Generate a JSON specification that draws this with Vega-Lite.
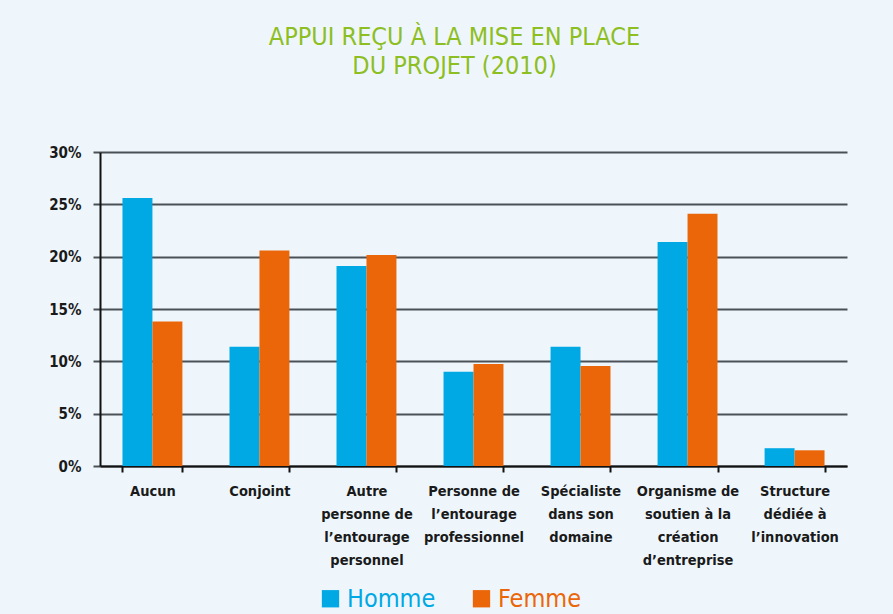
{
  "$schema": "https://vega.github.io/schema/vega-lite/v6.json",
  "width": 747,
  "height": 314,
  "padding": {"left": 48, "top": 25, "right": 47, "bottom": 14},
  "background": "#EEF6FC",
  "title": {
    "text": ["APPUI REÇU À LA MISE EN PLACE", "DU PROJET (2010)"],
    "color": "#8DBE22",
    "font": "DejaVu Sans Condensed, DejaVu Sans, sans-serif",
    "fontSize": 25,
    "fontWeight": "normal",
    "lineHeight": 29,
    "anchor": "middle",
    "frame": "group",
    "dx": -19,
    "offset": 66
  },
  "data": {
    "values": [
      {"categorie": "Aucun", "sexe": "Homme", "valeur": 25.6},
      {"categorie": "Aucun", "sexe": "Femme", "valeur": 13.8},
      {"categorie": "Conjoint", "sexe": "Homme", "valeur": 11.4},
      {"categorie": "Conjoint", "sexe": "Femme", "valeur": 20.6},
      {"categorie": "Autre|personne de|l’entourage|personnel", "sexe": "Homme", "valeur": 19.1},
      {"categorie": "Autre|personne de|l’entourage|personnel", "sexe": "Femme", "valeur": 20.15},
      {"categorie": "Personne de|l’entourage|professionnel", "sexe": "Homme", "valeur": 9.0},
      {"categorie": "Personne de|l’entourage|professionnel", "sexe": "Femme", "valeur": 9.75},
      {"categorie": "Spécialiste|dans son|domaine", "sexe": "Homme", "valeur": 11.4},
      {"categorie": "Spécialiste|dans son|domaine", "sexe": "Femme", "valeur": 9.55},
      {"categorie": "Organisme de|soutien à la|création|d’entreprise", "sexe": "Homme", "valeur": 21.4},
      {"categorie": "Organisme de|soutien à la|création|d’entreprise", "sexe": "Femme", "valeur": 24.1},
      {"categorie": "Structure|dédiée à|l’innovation", "sexe": "Homme", "valeur": 1.7},
      {"categorie": "Structure|dédiée à|l’innovation", "sexe": "Femme", "valeur": 1.5}
    ]
  },
  "mark": {"type": "bar"},
  "encoding": {
    "x": {
      "field": "categorie",
      "type": "nominal",
      "sort": null,
      "scale": {"paddingInner": 0.44, "paddingOuter": 0.21},
      "axis": {
        "title": null,
        "labelAngle": 0,
        "labelExpr": "split(datum.label, '|')",
        "labelFont": "DejaVu Sans Condensed, DejaVu Sans, sans-serif",
        "labelFontSize": 14.5,
        "labelFontWeight": "bold",
        "labelColor": "#1a1a1a",
        "labelLineHeight": 23,
        "labelPadding": 12,
        "labelLimit": 0,
        "tickBand": "extent",
        "tickSize": 6,
        "tickWidth": 2,
        "tickColor": "#111111",
        "domainColor": "#111111",
        "domainWidth": 2
      }
    },
    "xOffset": {"field": "sexe", "type": "nominal", "sort": ["Homme", "Femme"], "scale": {"paddingInner": 0, "paddingOuter": 0}},
    "y": {
      "field": "valeur",
      "type": "quantitative",
      "scale": {"domain": [0, 30], "nice": false},
      "axis": {
        "title": null,
        "values": [0, 5, 10, 15, 20, 25, 30],
        "labelExpr": "datum.value + '%'",
        "labelFont": "DejaVu Sans Condensed, DejaVu Sans, sans-serif",
        "labelFontSize": 15,
        "labelFontWeight": "bold",
        "labelColor": "#1a1a1a",
        "labelPadding": 12,
        "tickSize": 7,
        "tickWidth": 2,
        "tickColor": "#4a5056",
        "grid": true,
        "gridColor": "#4a5056",
        "gridWidth": 2,
        "domainColor": "#111111",
        "domainWidth": 2
      }
    },
    "color": {
      "field": "sexe",
      "type": "nominal",
      "sort": ["Homme", "Femme"],
      "scale": {"domain": ["Homme", "Femme"], "range": ["#00A8E4", "#EB6608"]},
      "legend": {
        "title": null,
        "orient": "none",
        "legendX": 218,
        "legendY": 434,
        "direction": "horizontal",
        "symbolType": "square",
        "symbolSize": 300,
        "symbolStrokeWidth": 0,
        "symbolOpacity": 1,
        "labelFont": "DejaVu Sans Condensed, DejaVu Sans, sans-serif",
        "labelFontSize": 25,
        "labelLimit": 0,
        "labelOffset": 4,
        "columnPadding": 33,
        "encode": {
          "labels": {"update": {"fill": {"signal": "datum.value === 'Homme' ? '#00A8E4' : '#EB6608'"}}}
        }
      }
    }
  },
  "config": {
    "view": {"stroke": null}
  }
}
